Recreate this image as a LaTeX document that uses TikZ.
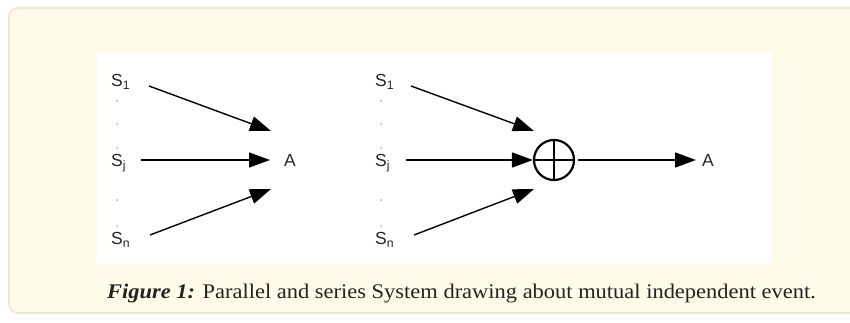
\documentclass[tikz,border=0pt]{standalone}
\usepackage{fontspec}
\setmainfont{Liberation Serif}
\newfontfamily\arialf{Liberation Sans}
\usetikzlibrary{arrows.meta}
\definecolor{panelfill}{HTML}{FFFBE8}
\definecolor{panelline}{HTML}{ECE9DC}
\definecolor{captext}{HTML}{222222}
\tikzset{
  lbl/.style={font=\arialf\fontsize{17.5}{17.5}\selectfont, inner sep=0pt, text=black!85},
  conn/.style={line width=1.4pt, -{Triangle[length=21pt,width=15pt]}},
  dotm/.style={circle, fill=black!55, inner sep=0pt, minimum size=1.5pt},
}
\begin{document}
\begin{tikzpicture}[x=1pt,y=-1pt]
\useasboundingbox (0,0) rectangle (850,323);
% panel
\draw[panelline, fill=panelfill, line width=2pt, rounded corners=9pt] (9,8) rectangle (870,313);
\fill[white] (97,52) rectangle (772,263);
% left diagram
\node[lbl, anchor=west] (ls1) at (111,82) {S\textsubscript{1}};
\node[lbl, anchor=west] (lsj) at (111,163) {S\textsubscript{j}};
\node[lbl, anchor=west] (lsn) at (111,240) {S\textsubscript{n}};
\node[dotm] (ld1) at (117,101) {};
\node[dotm] (ld2) at (117,124) {};
\node[dotm] (ld3) at (117,148) {};
\node[dotm] (ld4) at (117,200) {};
\node[dotm] (ld5) at (117,226) {};
\node[lbl] (la) at (290,160) {A};
\coordinate (la1) at (271,131);
\coordinate (la2) at (270,160);
\coordinate (la3) at (271,189);
\draw[conn] (149,86) -- (la1);
\draw[conn] (141,160) -- (la2);
\draw[conn] (150,235) -- (la3);
% right diagram
\node[lbl, anchor=west] (rs1) at (375,82) {S\textsubscript{1}};
\node[lbl, anchor=west] (rsj) at (375,163) {S\textsubscript{j}};
\node[lbl, anchor=west] (rsn) at (375,240) {S\textsubscript{n}};
\node[dotm] (rd1) at (381,101) {};
\node[dotm] (rd2) at (381,124) {};
\node[dotm] (rd3) at (381,148) {};
\node[dotm] (rd4) at (381,200) {};
\node[dotm] (rd5) at (381,226) {};
\node[circle, draw, line width=2.2pt, minimum size=40pt, inner sep=0pt] (sum) at (554,160) {};
\draw[line width=2.2pt] (sum.north) -- (sum.south) (sum.west) -- (sum.east);
\coordinate (rin1) at (534,131);
\coordinate (rin3) at (534,189);
\draw[conn] (411,86) -- (rin1);
\draw[conn] (406,160) -- (sum.west);
\draw[conn] (414,235) -- (rin3);
\node[lbl] (ra) at (708,160) {A};
\coordinate (rout) at (696,160);
\draw[conn] (sum.east) ++(3,0) -- (rout);
% caption
\node[anchor=base west, inner sep=0pt, text=captext, font=\addfontfeature{FakeStretch=1.08}\fontsize{20.8}{21}\selectfont] (cap) at (107,298) {\textbf{\textit{Figure 1:}} Parallel and series System drawing about mutual independent event.};
\end{tikzpicture}
\end{document}
